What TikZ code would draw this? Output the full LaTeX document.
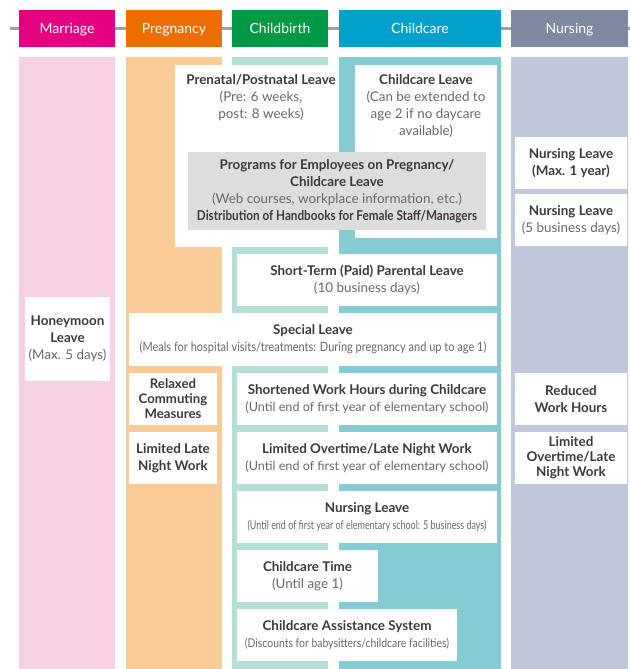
\documentclass[tikz,border=0pt]{standalone}
\usepackage{fontspec}
\setmainfont{Lato}
\newfontfamily\narrowfont[FakeStretch=0.86]{Lato}
\newfontfamily\slimfont[FakeStretch=0.74]{Lato}
\usepackage{tikz}
\usetikzlibrary{positioning}

\definecolor{pinkH}{HTML}{E4007F}
\definecolor{orangeH}{HTML}{ED6D00}
\definecolor{greenH}{HTML}{009A44}
\definecolor{cyanH}{HTML}{00A1CB}
\definecolor{greyH}{HTML}{7F8AA2}
\definecolor{pinkC}{HTML}{F8D1E4}
\definecolor{orangeC}{HTML}{F9CB96}
\definecolor{ltealC}{HTML}{B4DED6}
\definecolor{tealC}{HTML}{84CBD3}
\definecolor{nurseC}{HTML}{C1C8DC}
\definecolor{boxgrey}{HTML}{DCDDDD}
\definecolor{rulegrey}{HTML}{A0A0A0}
\definecolor{ink}{HTML}{3E3A39}
\definecolor{note}{HTML}{6A6767}

\newcommand{\itemhead}[1]{{\bfseries #1}}
\newcommand{\itemnote}[1]{{\color{note}#1}}

\begin{document}
\begin{tikzpicture}[x=1pt, y=-1pt]
			\tikzstyle{Head}	= [minimum height=37pt, inner sep=0pt, text height=12pt, text depth=1pt, text=white, font=\fontsize{14}{16}\selectfont]
			\tikzstyle{Box}		= [fill=white, inner sep=0pt, align=center, text=ink, font=\fontsize{13.4}{17}\selectfont]
			\tikzstyle{Txt}		= [inner sep=0pt, align=center, text=ink, font=\fontsize{13.4}{17}\selectfont]
			\tikzstyle{Grey}	= [Box, fill=boxgrey]
			\tikzstyle{Rule}	= [line width=3pt, rulegrey]

			\useasboundingbox (0,0) rectangle (630,669);

			% stage columns
			\fill[pinkC] (19,57) rectangle (115,669);
			\fill[orangeC] (126,57) rectangle (222,669);
			\fill[ltealC] (232,57) rectangle (328,669);
			\fill[tealC] (339,57) rectangle (501,669);
			\fill[nurseC] (511,57) rectangle (628,669);

			% timeline
			\coordinate (lineL) at (10,29);
			\coordinate (lineR) at (630,29);
			\draw[Rule] (lineL) -- (lineR);

			\node (hMar) at (67,28.5) [Head, fill=pinkH, minimum width=96pt] {Marriage};
			\node (hPre) at (174,28.5) [Head, fill=orangeH, minimum width=96pt] {Pregnancy};
			\node (hBir) at (280,28.5) [Head, fill=greenH, minimum width=96pt] {Childbirth};
			\node (hCar) at (420,28.5) [Head, fill=cyanH, minimum width=162pt] {Childcare};
			\node (hNur) at (569.5,28.5) [Head, fill=greyH, minimum width=117pt] {Nursing};

			% leave boxes with text at the top
			\node (pren) at (257,156) [Box, minimum width=164pt, minimum height=182pt] {};
			\node (prenT) at (261,98) [Txt] {\itemhead{Prenatal/Postnatal Leave}\\\itemnote{(Pre: 6 weeks,}\\\itemnote{post: 8 weeks)}};
			\node (ccl) at (426,151.5) [Box, minimum width=142pt, minimum height=173pt] {};
			\node (cclT) at (426,106.5) [Txt] {\itemhead{Childcare Leave}\\\itemnote{(Can be extended to}\\\itemnote{age 2 if no daycare}\\\itemnote{available)}};
			\node (prog) at (337,191) [Grey, minimum width=298pt, minimum height=78pt] {\itemhead{Programs for Employees on Pregnancy/}\\\itemhead{Childcare Leave}\\\itemnote{(Web courses, workplace information, etc.)}\\{\narrowfont\fontsize{13.6}{17}\selectfont\bfseries Distribution of Handbooks for Female Staff/Managers}};

			% nursing column
			\node (nl1) at (571,163) [Box, minimum width=112pt, minimum height=52pt] {\itemhead{Nursing Leave}\\\itemhead{(Max. 1 year)}};
			\node (nl2) at (571,220) [Box, minimum width=112pt, minimum height=52pt] {\itemhead{Nursing Leave}\\\itemnote{(5 business days)}};
			\node (rwh) at (571,399) [Box, minimum width=112pt, minimum height=52pt] {\itemhead{Reduced}\\\itemhead{Work Hours}};
			\node (lon) at (571,458) [Box, minimum width=112pt, minimum height=52pt, font=\fontsize{13.4}{15}\selectfont] {\itemhead{Limited}\\\itemhead{Overtime/Late}\\\itemhead{Night Work}};

			% marriage / pregnancy
			\node (hon) at (67.5,339) [Box, minimum width=85pt, minimum height=84pt] {\itemhead{Honeymoon}\\\itemhead{Leave}\\\itemnote{(Max. 5 days)}};
			\node (spl) at (313,339.5) [Box, minimum width=368pt, minimum height=53pt] {\itemhead{Special Leave}\\{\narrowfont\fontsize{12.8}{17}\selectfont\color{note}(Meals for hospital visits/treatments: During pregnancy and up to age 1)}};
			\node (rcm) at (173,399) [Box, minimum width=88pt, minimum height=52pt, font=\fontsize{13.2}{15}\selectfont] {\itemhead{Relaxed}\\\itemhead{Commuting}\\\itemhead{Measures}};
			\node (lln) at (173,458) [Box, minimum width=88pt, minimum height=52pt] {\itemhead{Limited Late}\\\itemhead{Night Work}};

			% childbirth / childcare
			\node (stp) at (367,280) [Box, minimum width=260pt, minimum height=52pt] {\itemhead{Short-Term (Paid) Parental Leave}\\\itemnote{(10 business days)}};
			\node (swh) at (367,399) [Box, minimum width=260pt, minimum height=52pt] {\itemhead{Shortened Work Hours during Childcare}\\{\fontsize{12.6}{17}\selectfont\color{note}(Until end of first year of elementary school)}};
			\node (lot) at (367,458) [Box, minimum width=260pt, minimum height=52pt] {\itemhead{Limited Overtime/Late Night Work}\\{\fontsize{12.6}{17}\selectfont\color{note}(Until end of first year of elementary school)}};
			\node (nlc) at (367,517) [Box, minimum width=260pt, minimum height=52pt] {\itemhead{Nursing Leave}\\{\slimfont\fontsize{12.1}{17}\selectfont\color{note}(Until end of first year of elementary school: 5 business days)}};
			\node (cct) at (307.5,576) [Box, minimum width=141pt, minimum height=52pt] {\itemhead{Childcare Time}\\\itemnote{(Until age 1)}};
			\node (cas) at (347,635) [Box, minimum width=220pt, minimum height=52pt] {\itemhead{Childcare Assistance System}\\{\narrowfont\fontsize{12.1}{17}\selectfont\color{note}(Discounts for babysitters/childcare facilities)}};
		\end{tikzpicture}
\end{document}
